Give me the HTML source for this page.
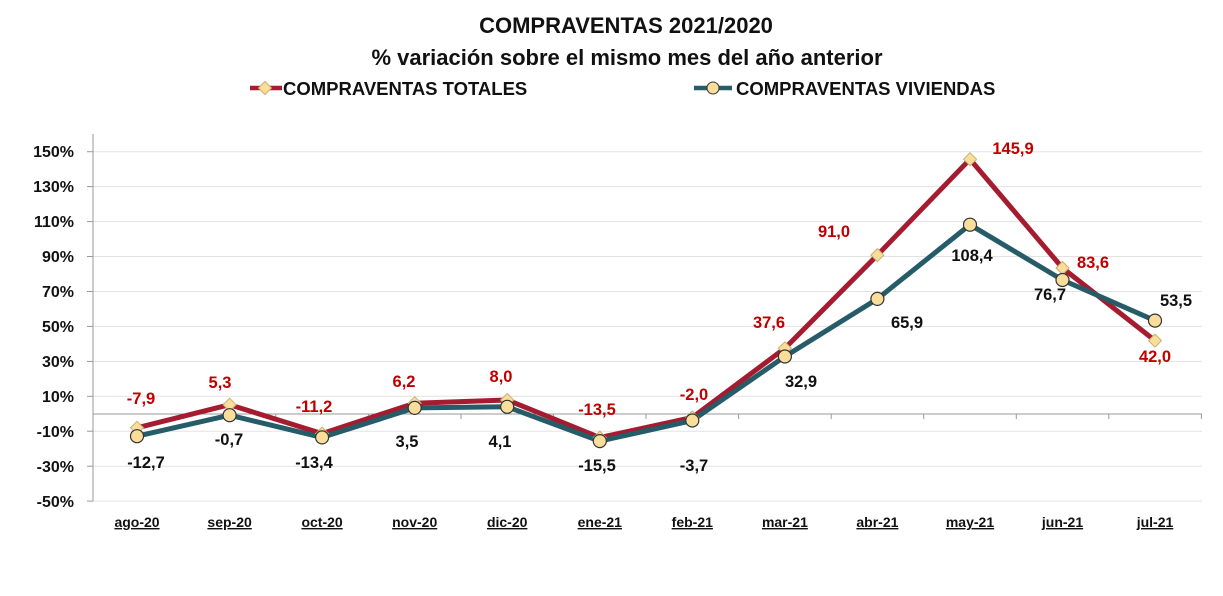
<!DOCTYPE html>
<html><head><meta charset="utf-8"><style>
body{margin:0;background:#fff;}
svg text{font-family:"Liberation Sans",sans-serif;font-weight:bold;}
</style></head><body>
<svg width="1223" height="591" viewBox="0 0 1223 591" xmlns="http://www.w3.org/2000/svg">
<rect width="1223" height="591" fill="#fff"/>
<text x="626" y="33" font-size="22" text-anchor="middle" fill="#111">COMPRAVENTAS 2021/2020</text>
<text x="627" y="65" font-size="22" text-anchor="middle" fill="#111">% variación sobre el mismo mes del año anterior</text>
<line x1="250" y1="88" x2="282" y2="88" stroke="#A51C30" stroke-width="4.5"/>
<path d="M265 81.5l6.5 6.5-6.5 6.5-6.5-6.5z" fill="#F8DE9A" stroke="#c8b070"/>
<text x="283" y="95" font-size="18.5" fill="#111">COMPRAVENTAS TOTALES</text>
<line x1="694" y1="88" x2="732" y2="88" stroke="#255C68" stroke-width="4.5"/>
<circle cx="713" cy="88" r="6" fill="#F8DE9A" stroke="#333" stroke-width="1"/>
<text x="736" y="95" font-size="18.5" fill="#111">COMPRAVENTAS VIVIENDAS</text>
<g stroke="#e3e3e3" stroke-width="1">
<line x1="93" y1="151.7" x2="1202" y2="151.7"/><line x1="93" y1="186.6" x2="1202" y2="186.6"/>
<line x1="93" y1="221.6" x2="1202" y2="221.6"/><line x1="93" y1="256.5" x2="1202" y2="256.5"/>
<line x1="93" y1="291.5" x2="1202" y2="291.5"/><line x1="93" y1="326.4" x2="1202" y2="326.4"/>
<line x1="93" y1="361.4" x2="1202" y2="361.4"/><line x1="93" y1="396.3" x2="1202" y2="396.3"/>
<line x1="93" y1="431.2" x2="1202" y2="431.2"/><line x1="93" y1="466.2" x2="1202" y2="466.2"/>
<line x1="93" y1="501.1" x2="1202" y2="501.1"/>
</g>
<g stroke="#999" stroke-width="1">
<line x1="93" y1="134" x2="93" y2="501"/>
<line x1="93" y1="414" x2="1202" y2="414"/>
<line x1="87" y1="151.7" x2="93" y2="151.7"/><line x1="87" y1="186.6" x2="93" y2="186.6"/>
<line x1="87" y1="221.6" x2="93" y2="221.6"/><line x1="87" y1="256.5" x2="93" y2="256.5"/>
<line x1="87" y1="291.5" x2="93" y2="291.5"/><line x1="87" y1="326.4" x2="93" y2="326.4"/>
<line x1="87" y1="361.4" x2="93" y2="361.4"/><line x1="87" y1="396.3" x2="93" y2="396.3"/>
<line x1="87" y1="431.2" x2="93" y2="431.2"/><line x1="87" y1="466.2" x2="93" y2="466.2"/>
<line x1="87" y1="501.1" x2="93" y2="501.1"/>
<line x1="183.3" y1="414" x2="183.3" y2="419"/><line x1="275.8" y1="414" x2="275.8" y2="419"/>
<line x1="368.4" y1="414" x2="368.4" y2="419"/><line x1="461" y1="414" x2="461" y2="419"/>
<line x1="553.5" y1="414" x2="553.5" y2="419"/><line x1="646" y1="414" x2="646" y2="419"/>
<line x1="738.6" y1="414" x2="738.6" y2="419"/><line x1="831.2" y1="414" x2="831.2" y2="419"/>
<line x1="923.7" y1="414" x2="923.7" y2="419"/><line x1="1016.3" y1="414" x2="1016.3" y2="419"/>
<line x1="1108.8" y1="414" x2="1108.8" y2="419"/><line x1="1201.4" y1="414" x2="1201.4" y2="419"/>
</g>
<g font-size="16" fill="#111" text-anchor="end">
<text x="74" y="157">150%</text><text x="74" y="192">130%</text><text x="74" y="227">110%</text>
<text x="74" y="262">90%</text><text x="74" y="297">70%</text><text x="74" y="332">50%</text>
<text x="74" y="367">30%</text><text x="74" y="402">10%</text><text x="74" y="437">-10%</text>
<text x="74" y="472">-30%</text><text x="74" y="507">-50%</text>
</g>
<g font-size="14" fill="#111" text-anchor="middle" text-decoration="underline">
<text x="137" y="527">ago-20</text><text x="229.6" y="527">sep-20</text><text x="322.1" y="527">oct-20</text>
<text x="414.7" y="527">nov-20</text><text x="507.2" y="527">dic-20</text><text x="599.8" y="527">ene-21</text>
<text x="692.3" y="527">feb-21</text><text x="784.9" y="527">mar-21</text><text x="877.4" y="527">abr-21</text>
<text x="970" y="527">may-21</text><text x="1062.5" y="527">jun-21</text><text x="1155" y="527">jul-21</text>
</g>
<polyline fill="none" stroke="#A51C30" stroke-width="5" stroke-linejoin="round" points="137,427.8 229.6,404.7 322.1,433.6 414.7,403.2 507.2,400 599.8,437.6 692.3,417.5 784.9,348.3 877.4,255.1 970,159.2 1062.5,268 1155,340.6"/>
<polyline fill="none" stroke="#255C68" stroke-width="5" stroke-linejoin="round" points="137,436.2 229.6,415.2 322.1,437.4 414.7,407.9 507.2,406.8 599.8,441.1 692.3,420.5 784.9,356.5 877.4,298.9 970,224.7 1062.5,280 1155,320.6"/>
<g fill="#F8DE9A" stroke="#c8b070" stroke-width="1">
<path d="M137 421.3l6.5 6.5-6.5 6.5-6.5-6.5z"/><path d="M229.6 398.2l6.5 6.5-6.5 6.5-6.5-6.5z"/><path d="M322.1 427.1l6.5 6.5-6.5 6.5-6.5-6.5z"/>
<path d="M414.7 396.7l6.5 6.5-6.5 6.5-6.5-6.5z"/><path d="M507.2 393.5l6.5 6.5-6.5 6.5-6.5-6.5z"/><path d="M599.8 431.1l6.5 6.5-6.5 6.5-6.5-6.5z"/>
<path d="M692.3 411l6.5 6.5-6.5 6.5-6.5-6.5z"/><path d="M784.9 341.8l6.5 6.5-6.5 6.5-6.5-6.5z"/><path d="M877.4 248.6l6.5 6.5-6.5 6.5-6.5-6.5z"/>
<path d="M970 152.7l6.5 6.5-6.5 6.5-6.5-6.5z"/><path d="M1062.5 261.5l6.5 6.5-6.5 6.5-6.5-6.5z"/><path d="M1155 334.1l6.5 6.5-6.5 6.5-6.5-6.5z"/>
</g>
<g fill="#F8DE9A" stroke="#333" stroke-width="1.2">
<circle cx="137" cy="436.2" r="6.5"/><circle cx="229.6" cy="415.2" r="6.5"/><circle cx="322.1" cy="437.4" r="6.5"/>
<circle cx="414.7" cy="407.9" r="6.5"/><circle cx="507.2" cy="406.8" r="6.5"/><circle cx="599.8" cy="441.1" r="6.5"/>
<circle cx="692.3" cy="420.5" r="6.5"/><circle cx="784.9" cy="356.5" r="6.5"/><circle cx="877.4" cy="298.9" r="6.5"/>
<circle cx="970" cy="224.7" r="6.5"/><circle cx="1062.5" cy="280" r="6.5"/><circle cx="1155" cy="320.6" r="6.5"/>
</g>
<g font-size="16.5" fill="#C00000" text-anchor="middle">
<text x="141" y="404">-7,9</text><text x="220" y="388">5,3</text><text x="314" y="412">-11,2</text>
<text x="404" y="387">6,2</text><text x="501" y="382">8,0</text><text x="597" y="415">-13,5</text>
<text x="694" y="400">-2,0</text><text x="769" y="328">37,6</text><text x="834" y="237">91,0</text>
<text x="1013" y="154">145,9</text><text x="1093" y="268">83,6</text><text x="1155" y="362">42,0</text>
</g>
<g font-size="16.5" fill="#111" text-anchor="middle">
<text x="146" y="468">-12,7</text><text x="229" y="445">-0,7</text><text x="314" y="468">-13,4</text>
<text x="407" y="447">3,5</text><text x="500" y="447">4,1</text><text x="597" y="471">-15,5</text>
<text x="694" y="471">-3,7</text><text x="801" y="387">32,9</text><text x="907" y="328">65,9</text>
<text x="972" y="261">108,4</text><text x="1050" y="300">76,7</text><text x="1176" y="306">53,5</text>
</g>
</svg>
</body></html>
